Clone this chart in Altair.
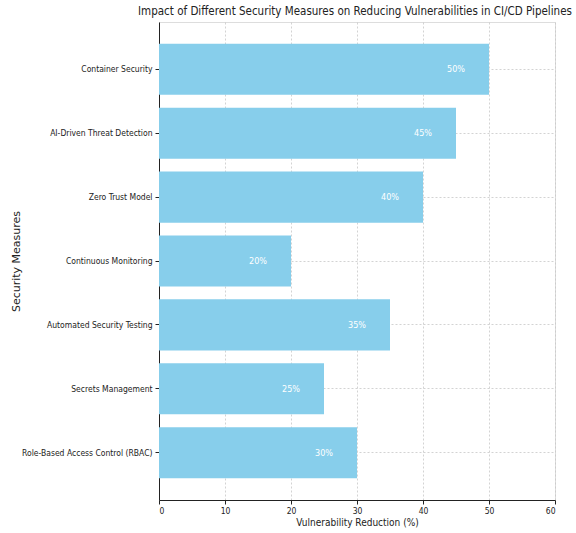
import altair as alt
import pandas as pd

measures = [
    "Container Security",
    "AI-Driven Threat Detection",
    "Zero Trust Model",
    "Continuous Monitoring",
    "Automated Security Testing",
    "Secrets Management",
    "Role-Based Access Control (RBAC)",
]
reduction = [50, 45, 40, 20, 35, 25, 30]
x_ticks = [0, 10, 20, 30, 40, 50, 60]

df = pd.DataFrame({"measure": measures, "value": reduction})
df["label"] = df["value"].astype(str) + "%"
df["label_pos"] = df["value"] - 5

FONT = "DejaVu Sans Condensed"

y_enc = alt.Y(
    "measure:N",
    sort=measures,
    scale=alt.Scale(paddingInner=0.2, paddingOuter=0.34),
    axis=alt.Axis(
        title="Security Measures",
        titleFont="DejaVu Sans",
        titleFontWeight="normal",
        titleFontSize=11,
        titleColor="#222",
        titleX=-143,
        titleY=239,
        titleAngle=-90,
        titleBaseline="middle",
        labelFont=FONT,
        labelFontSize=8.5,
        labelColor="#222",
        labelPadding=3,
        tickColor="#222",
        tickSize=4,
        bandPosition=0.5,
        grid=True,
        domainColor="#222",
        gridColor="#c8c8c8",
        gridDash=[2, 2],
        gridWidth=0.8,
    ),
)

x_enc = alt.X(
    "value:Q",
    scale=alt.Scale(domain=[0, 60], nice=False),
    axis=alt.Axis(
        title="Vulnerability Reduction (%)",
        titleFont=FONT,
        titleFontWeight="normal",
        titleFontSize=10,
        titleColor="#222",
        titlePadding=3,
        values=x_ticks,
        labelFont=FONT,
        labelFontSize=8.5,
        labelColor="#222",
        labelPadding=2,
        tickColor="#222",
        tickSize=4,
        domainColor="#222",
        gridColor="#c8c8c8",
        gridDash=[2, 2],
        gridWidth=0.8,
    ),
)

bars = alt.Chart(df).mark_bar(color="#87CEEB").encode(x=x_enc, y=y_enc)

labels = alt.Chart(df).mark_text(
    color="white", font=FONT, fontSize=9, align="center", baseline="middle"
).encode(
    x=alt.X("label_pos:Q"),
    y=alt.Y("measure:N", sort=measures),
    text="label:N",
)

chart = (
    alt.layer(bars, labels)
    .properties(
        width=396,
        height=478,
        autosize=alt.AutoSizeParams(type="none"),
        padding={"left": 159, "top": 22, "right": 21, "bottom": 33},
        title=alt.Title(
            "Impact of Different Security Measures on Reducing Vulnerabilities in CI/CD Pipelines",
            font=FONT,
            fontSize=11.5,
            fontWeight="normal",
            color="#222",
            anchor="middle",
            dx=-2,
            offset=5,
        ),
    )
    .configure_view(stroke=None)
    .configure_axis(zindex=1)
    .configure(background="white")
)

chart.save("out.html", embed_options={"renderer": "svg", "actions": False})
